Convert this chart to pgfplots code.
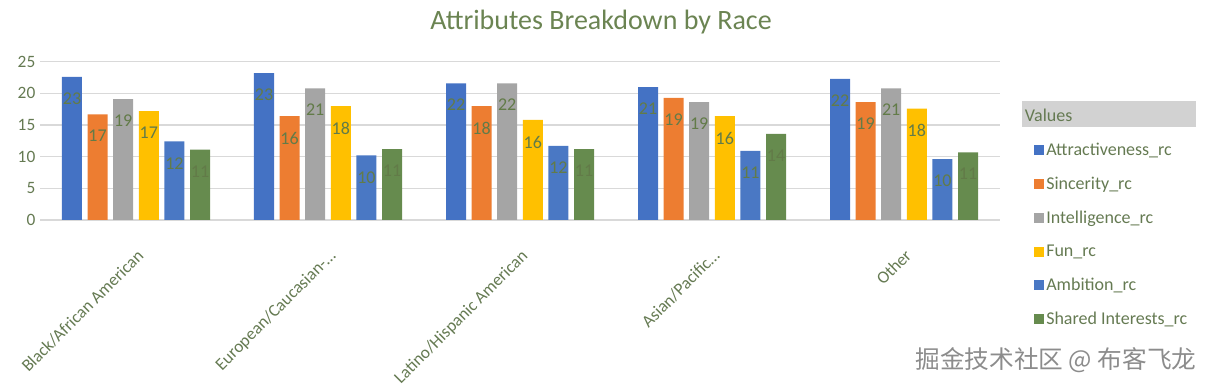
\documentclass[border=0pt]{standalone}
\usepackage{pgfplots}
\usepackage{pgfplotstable}
\pgfplotsset{compat=1.18}
\usepackage{fontspec}
\setmainfont{Carlito}
\newfontfamily\cjk{Noto Sans CJK SC}
\definecolor{cA}{HTML}{4472C4}
\definecolor{cS}{HTML}{ED7D31}
\definecolor{cI}{HTML}{A5A5A5}
\definecolor{cF}{HTML}{FFC000}
\definecolor{cB}{HTML}{4A78C4}
\definecolor{cG}{HTML}{668B4E}
\definecolor{gridc}{HTML}{D9D9D9}
\definecolor{textc}{HTML}{657A52}
\definecolor{titlec}{HTML}{6B8452}
\definecolor{labelc}{HTML}{627B48}
\definecolor{bandc}{HTML}{D2D2D2}

\pgfplotstableread{
x attr sinc intel fun amb shared
0 22.6 16.7 19.1 17.2 12.4 11.1
1 23.2 16.4 20.8 18.0 10.2 11.2
2 21.6 18.0 21.6 15.8 11.7 11.2
3 21.0 19.3 18.6 16.4 10.9 13.6
4 22.3 18.6 20.8 17.6 9.6 10.7
}\datatable

\begin{document}
\begin{tikzpicture}[x=0.75pt,y=0.75pt]
\useasboundingbox (0,0) rectangle (1214,389);
\node[font=\fontsize{21}{25}\selectfont, text=titlec] at (601,367) {Attributes Breakdown by Race};
\node[font=\cjk\fontsize{18.5}{20}\selectfont, text=black!45] at (1056,29) {掘金技术社区 @ 布客飞龙};
\begin{axis}[
  at={(30pt,126.75pt)}, anchor=south west,
  scale only axis, width=720pt, height=118.7pt,
  ybar=4.2pt, bar width=15pt,
  ymin=0, ymax=25, ytick={0,5,...,25},
  xmin=-0.5, xmax=4.5, xtick=data,
  xticklabels={Black/African American, European/Caucasian-…, Latino/Hispanic American, Asian/Pacific…, Other},
  ymajorgrids, grid style={color=gridc, line width=0.9pt},
  axis line style={draw=none}, tick style={draw=none},
  /pgf/number format/assume math mode=true,
  yticklabel style={font=\fontsize{13}{15}\selectfont, text=textc},
  xticklabel shift=12pt,
  xticklabel style={font=\fontsize{13}{15}\selectfont, text=textc, rotate=45, anchor=north east},
  nodes near coords,
  every node near coord/.append style={anchor=north, yshift=-8.4pt, font=\fontsize{13.5}{15}\selectfont, text=labelc, /pgf/number format/.cd, fixed, precision=0},
  legend style={draw=none, fill=none, at={(rel axis cs:1,1)}, anchor=north west, xshift=22pt, yshift=-25pt,
    font=\fontsize{13.5}{16}\selectfont, text=textc, row sep=10.6pt,
    /tikz/every even column/.append style={column sep=1pt}},
  legend cell align=left,
  legend image code/.code={\fill[#1] (0pt,-3.75pt) rectangle (7.5pt,3.75pt);},
]
\addlegendimage{empty legend}
\addlegendentry{\hspace*{-18pt}{\setlength{\fboxsep}{0pt}\colorbox{bandc}{\makebox[130.5pt][l]{\rule[-3.75pt]{0pt}{19.5pt}\hspace{2pt}Values}}}}
\addplot[fill=cA, draw=none] table[x=x, y=attr] {\datatable};
\addlegendentry{Attractiveness\_rc}
\addplot[fill=cS, draw=none] table[x=x, y=sinc] {\datatable};
\addlegendentry{Sincerity\_rc}
\addplot[fill=cI, draw=none] table[x=x, y=intel] {\datatable};
\addlegendentry{Intelligence\_rc}
\addplot[fill=cF, draw=none] table[x=x, y=fun] {\datatable};
\addlegendentry{Fun\_rc}
\addplot[fill=cB, draw=none] table[x=x, y=amb] {\datatable};
\addlegendentry{Ambition\_rc}
\addplot[fill=cG, draw=none] table[x=x, y=shared] {\datatable};
\addlegendentry{Shared Interests\_rc}
\end{axis}
\end{tikzpicture}
\end{document}
